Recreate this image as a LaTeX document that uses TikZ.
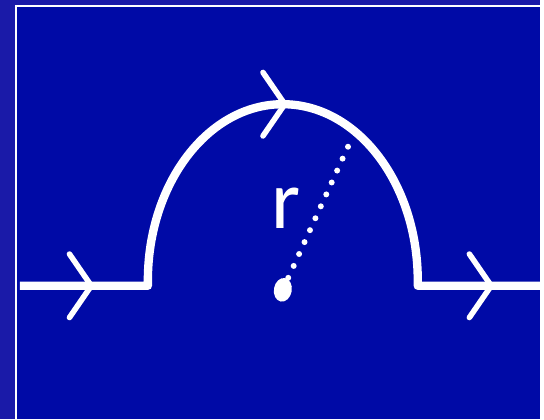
\documentclass[tikz,border=0pt]{standalone}
\usepackage{fontspec}
\setmainfont{Carlito}
\usetikzlibrary{positioning,calc}
\definecolor{outerblue}{RGB}{26,26,168}
\definecolor{innerblue}{RGB}{0,10,166}

\begin{document}
\begin{tikzpicture}[x=0.5pt,y=-0.5pt,every node/.style={font=\fontsize{42}{42}\selectfont,text=white},
  wire/.style={white,line width=4.2pt,line join=round},
  chev/.style={white,line width=2.8pt,line cap=round,line join=round}]
\fill[outerblue] (0,0) rectangle (544,422);
\fill[innerblue] (16,6) rectangle (544,422);
\draw[white,line width=1pt] (16,422)--(16,6)--(544,6);
% path with the half loop
\coordinate (in) at (20,288);
\coordinate (out) at (544,288);
\coordinate (c) at (285,292);
\coordinate (rim) at (352,145);
\draw[wire] (in)--(149,288)--(149,283) arc[start angle=180,end angle=360,x radius=136,y radius=178]--(421,288)--(out);
\foreach \x/\y in {92/288,287/105,495/288}
{\draw[chev] (\x-22,\y-32)--(\x,\y)--(\x-22,\y+32);}
% radius
\draw[white,line width=3pt,line cap=round,dash pattern=on 0pt off 6.6pt] (c)--(rim);
\fill[white,rotate around={-10:(c)}] (c) ellipse (9 and 12);
\node (r) at (288,210) {r};
\end{tikzpicture}
\end{document}
